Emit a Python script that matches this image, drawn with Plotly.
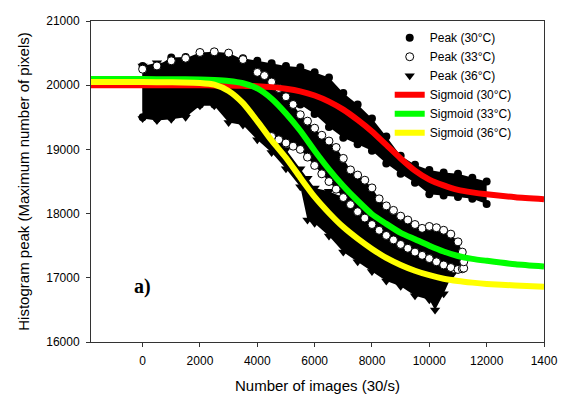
import plotly.graph_objects as go

# ---------------- data ----------------
# Peak (30°C): band of filled circles (upper / lower envelope of the point cloud)
p30_x = [0, 500, 1000, 1500, 2000, 2500, 3000, 3500, 4000, 4500, 5000, 5500, 6000, 6500,
         7000, 7500, 8000, 8500, 9000, 9500, 10000, 10500, 11000, 11500, 12000]
p30_hi = [20300, 20300, 20430, 20440, 20430, 20440, 20430, 20420, 20380, 20340, 20300, 20280, 20200, 20120,
          19880, 19700, 19480, 19200, 18900, 18760, 18680, 18640, 18620, 18560, 18500]
p30_lo = [19500, 19480, 19500, 19550, 19700, 19700, 19600, 19500, 19600, 19700, 19750, 19700, 19550, 19350,
          19180, 19080, 18980, 18780, 18620, 18480, 18300, 18280, 18260, 18230, 18150]

# Peak (33°C): band of open circles
p33_x = [0, 500, 1000, 1500, 2000, 2500, 3000, 3500, 4000, 4250, 4500, 4750, 5000, 5250, 5500, 5750,
         6000, 6250, 6500, 6750, 7000, 7250, 7500, 7750, 8000, 8250, 8500, 8750, 9000, 9250,
         9500, 9750, 10000, 10250, 10500, 10750, 11000, 11150, 11200]
p33_hi = [20250, 20300, 20380, 20420, 20510, 20520, 20500, 20400, 20200, 20150, 20050, 19950, 19820, 19700,
          19540, 19440, 19330, 19220, 19130, 19030, 18860, 18680, 18600, 18520, 18400, 18230, 18120,
          18050, 17960, 17900, 17830, 17770, 17800, 17780, 17740, 17680, 17560, 17400, 17250]
p33_lo = [19600, 19600, 19650, 19650, 19700, 19750, 19700, 19650, 19450, 19300, 19200, 19150, 19100, 19050,
          19000, 18880, 18750, 18620, 18500, 18380, 18250, 18140, 18030, 17930, 17830, 17740, 17660,
          17590, 17520, 17460, 17400, 17350, 17300, 17250, 17200, 17160, 17130, 17140, 17150]

# Peak (36°C): band of filled down-triangles
p36_x = [0, 500, 1000, 1500, 2000, 2500, 3000, 3500, 4000, 4500, 5000, 5500, 5750, 6000, 6500,
         7000, 7500, 8000, 8500, 9000, 9500, 10000, 10200, 10500, 10800]
p36_hi = [20300, 20350, 20350, 20300, 20200, 20100, 20050, 19950, 19750, 19350, 19000, 18700, 18550, 18400,
          18350, 18250, 18100, 17900, 17750, 17600, 17500, 17400, 17350, 17300, 17200]
p36_lo = [19480, 19450, 19470, 19500, 19680, 19680, 19420, 19380, 19150, 18950, 18700, 18420, 17900, 17850,
          17650, 17400, 17250, 17100, 16950, 16870, 16720, 16660, 16500, 16750, 17050]

# Sigmoid fits
sig_x = [-1800, 0, 1000, 2000, 2500, 3000, 3500, 4000, 4500, 5000, 5500, 6000, 6500, 7000,
         7500, 8000, 8500, 9000, 9500, 10000, 10500, 11000, 11500, 12000, 13000, 14000]
sig30 = [20000, 20000, 20000, 19998, 19997, 19995, 19990, 19985, 19970, 19945, 19905, 19840, 19745, 19620,
         19460, 19280, 19070, 18860, 18670, 18530, 18440, 18370, 18330, 18300, 18255, 18225]
sig33 = [20095, 20095, 20093, 20088, 20080, 20065, 20030, 19950, 19790, 19560, 19290, 18980, 18690, 18430,
         18200, 17990, 17840, 17700, 17600, 17500, 17410, 17340, 17295, 17265, 17210, 17175]
sig36 = [20048, 20048, 20045, 20035, 20010, 19910, 19720, 19440, 19140, 18870, 18560, 18260, 18010, 17790,
         17610, 17450, 17310, 17200, 17110, 17040, 16985, 16950, 16925, 16905, 16880, 16862]

x_tickvals = [0, 2000, 4000, 6000, 8000, 10000, 12000, 14000]
x_ticktext = ["0", "2000", "4000", "6000", "8000", "10000", "12000", "1400"]
y_tickvals = [16000, 17000, 18000, 19000, 20000, 21000]
y_ticktext = ["16000", "17000", "18000", "19000", "20000", "21000"]

FONT = "Liberation Sans, Arial, Helvetica, sans-serif"
MS = 8
LO_START = 10  # lower-edge open circles are only visible from x = 4500 on

def band(xs, hi, lo):
    return xs + xs[::-1], hi + lo[::-1]

fig = go.Figure()

# 30 °C
bx, by = band(p30_x, p30_hi, p30_lo)
fig.add_trace(go.Scatter(x=bx, y=by, mode="lines", fill="toself", fillcolor="black",
                         line=dict(width=0, color="black"), showlegend=False, hoverinfo="skip"))
fig.add_trace(go.Scatter(x=p30_x + p30_x, y=p30_hi + p30_lo, mode="markers", name="Peak (30°C)",
                         marker=dict(symbol="circle", size=MS, color="black"), legendrank=1))

# 33 °C band
bx, by = band(p33_x, p33_hi, p33_lo)
fig.add_trace(go.Scatter(x=bx, y=by, mode="lines", fill="toself", fillcolor="black",
                         line=dict(width=0, color="black"), showlegend=False, hoverinfo="skip"))

# 36 °C
bx, by = band(p36_x, p36_hi, p36_lo)
fig.add_trace(go.Scatter(x=bx, y=by, mode="lines", fill="toself", fillcolor="black",
                         line=dict(width=0, color="black"), showlegend=False, hoverinfo="skip"))
fig.add_trace(go.Scatter(x=p36_x + p36_x, y=p36_hi + p36_lo, mode="markers", name="Peak (36°C)",
                         marker=dict(symbol="triangle-down", size=MS + 1, color="black"), legendrank=3))

# open circles of 33 °C on top
fig.add_trace(go.Scatter(x=p33_x[LO_START:], y=p33_lo[LO_START:], mode="markers", showlegend=False,
                         marker=dict(symbol="circle", size=MS, color="white",
                                     line=dict(color="black", width=1))))
fig.add_trace(go.Scatter(x=p33_x, y=p33_hi, mode="markers", name="Peak (33°C)",
                         marker=dict(symbol="circle", size=MS, color="white",
                                     line=dict(color="black", width=1)), legendrank=2))

# sigmoid curves
for ys, col, nm, rk in [(sig30, "#ff0000", "Sigmoid (30°C)", 4),
                        (sig33, "#00ff00", "Sigmoid (33°C)", 5),
                        (sig36, "#ffff00", "Sigmoid (36°C)", 6)]:
    fig.add_trace(go.Scatter(x=sig_x, y=ys, mode="lines", name=nm,
                             line=dict(color=col, width=6, shape="spline", smoothing=0.6),
                             legendrank=rk))

fig.add_annotation(x=0, y=16871, xref="x", yref="y", text="<b>a)</b>", showarrow=False,
                   font=dict(family="Liberation Serif, Times New Roman, serif", size=20, color="black"),
                   xanchor="center", yanchor="middle")

axis_common = dict(showgrid=False, zeroline=False, showline=True, linecolor="#333333", linewidth=1,
                   mirror=True, ticks="outside", ticklen=4, tickcolor="#333333",
                   tickfont=dict(family=FONT, size=12, color="black"))

fig.update_xaxes(range=[-1800, 14000], tickvals=x_tickvals, ticktext=x_ticktext,
                 ticklabelstandoff=4,
                 title=dict(text="Number of images (30/s)", font=dict(family=FONT, size=15, color="black"),
                            standoff=20),
                 **axis_common)
fig.update_yaxes(range=[16000, 21000], tickvals=y_tickvals, ticktext=y_ticktext,
                 ticklabelstandoff=4,
                 title=dict(text="Histogram peak (Maximum number of pixels)",
                            font=dict(family=FONT, size=15, color="black"), standoff=12),
                 **axis_common)

fig.update_layout(
    width=563, height=394,
    margin=dict(l=91, r=19, t=21, b=52, autoexpand=False),
    paper_bgcolor="white", plot_bgcolor="white",
    font=dict(family=FONT, size=12, color="black"),
    legend=dict(x=0.6594, y=0.993, xanchor="left", yanchor="top", bgcolor="rgba(0,0,0,0)",
                font=dict(family=FONT, size=12, color="black"), tracegroupgap=0),
    showlegend=True,
)

fig.write_html("out.html", config={"displayModeBar": False},
               post_script="document.body.style.margin='0';")
